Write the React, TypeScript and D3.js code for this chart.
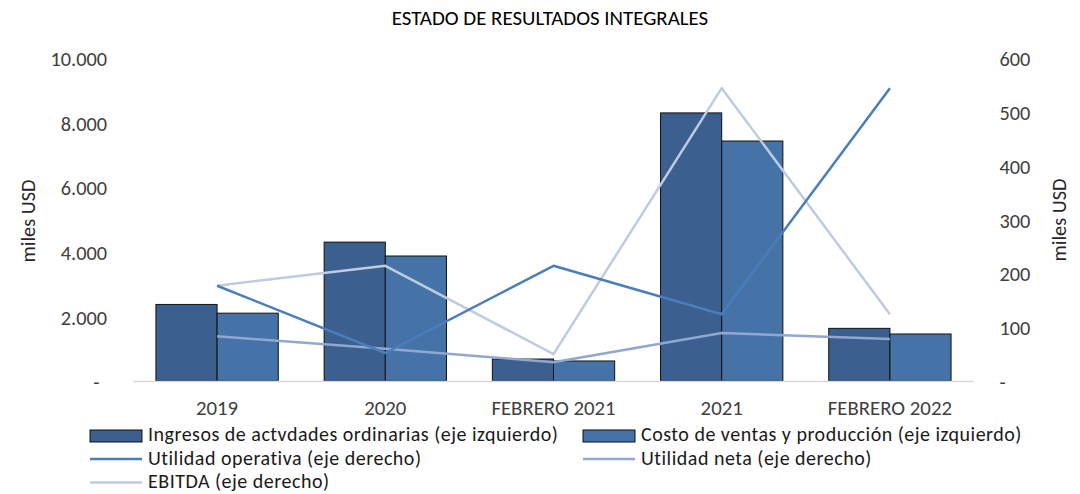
// @ts-nocheck
import React, { useEffect, useRef } from 'react';
import * as d3 from 'd3';

const categories = ['2019', '2020', 'FEBRERO 2021', '2021', 'FEBRERO 2022'];
const ingresos = [2370, 4300, 680, 8300, 1630];
const costo = [2100, 3870, 620, 7430, 1455];
const utilidadOperativa = [177, 52, 214, 124, 544];
const utilidadNeta = [83, 60, 35, 89, 78];
const ebitda = [177, 214, 50, 544, 124];
const leftTicks = [0, 2000, 4000, 6000, 8000, 10000];
const rightTicks = [0, 100, 200, 300, 400, 500, 600];

const FONT = "Carlito, Calibri, Lato, sans-serif";
const FS = 20.3;

const App = () => {
  const svgRef = useRef(null);

  useEffect(() => {
    const width = 1080;
    const height = 494;
    const left = 133;
    const right = 974;
    const top = 58;
    const bottom = 381;

    const svg = d3.select(svgRef.current)
      .attr('width', width)
      .attr('height', height)
      .attr('viewBox', [0, 0, width, height])
      .style('display', 'block')
      .style('font-family', FONT);

    svg.selectAll('*').remove();

    const fmt = d3.formatLocale({ thousands: '.', grouping: [3], decimal: ',', currency: ['', ''] }).format(',d');

    const x = d3.scaleBand().domain(categories).range([left, right]);
    const xSub = d3.scaleBand().domain(['ing', 'cost']).range([0, x.bandwidth()]).paddingOuter(0.375);
    const yL = d3.scaleLinear().domain([0, 10000]).range([bottom, top]);
    const yR = d3.scaleLinear().domain([0, 600]).range([bottom, top]);

    // title
    svg.append('text')
      .attr('x', 550).attr('y', 17.5)
      .attr('dy', '0.35em')
      .attr('text-anchor', 'middle')
      .attr('font-size', 20.9)
      .attr('fill', '#000')
      .text('ESTADO DE RESULTADOS INTEGRALES');

    // left axis
    svg.append('g').selectAll('text').data(leftTicks).join('text')
      .attr('x', d => d === 0 ? 99.5 : 107)
      .attr('y', d => yL(d) + 1)
      .attr('dy', '0.35em')
      .attr('text-anchor', 'end')
      .attr('font-size', FS)
      .attr('fill', '#404040')
      .text(d => d === 0 ? '-' : fmt(d));

    // right axis
    svg.append('g').selectAll('text').data(rightTicks).join('text')
      .attr('x', 999.5)
      .attr('y', d => yR(d) + 1)
      .attr('dy', '0.35em')
      .attr('text-anchor', 'start')
      .attr('font-size', FS)
      .attr('fill', '#404040')
      .text(d => d === 0 ? '-' : fmt(d));

    svg.append('text')
      .attr('transform', 'translate(28,221) rotate(-90)')
      .attr('dy', '0.35em')
      .attr('text-anchor', 'middle')
      .attr('font-size', FS)
      .attr('fill', '#262626')
      .text('miles USD');

    svg.append('text')
      .attr('transform', 'translate(1059,220) rotate(-90)')
      .attr('dy', '0.35em')
      .attr('text-anchor', 'middle')
      .attr('font-size', FS)
      .attr('fill', '#262626')
      .text('miles USD');

    // bars
    const barSeries = [
      { key: 'ing', values: ingresos, color: '#3B5F8E' },
      { key: 'cost', values: costo, color: '#4573A8' },
    ];
    barSeries.forEach(s => {
      svg.append('g').selectAll('rect').data(categories).join('rect')
        .attr('x', (d) => x(d) + xSub(s.key))
        .attr('y', (d, i) => yL(s.values[i]))
        .attr('width', xSub.bandwidth())
        .attr('height', (d, i) => yL(0) - yL(s.values[i]))
        .attr('fill', s.color)
        .attr('stroke', '#111')
        .attr('stroke-width', 1);
    });

    // baseline
    svg.append('line')
      .attr('x1', left).attr('x2', right)
      .attr('y1', bottom + 0.5).attr('y2', bottom + 0.5)
      .attr('stroke', '#D9D9D9')
      .attr('stroke-width', 1.5);

    // lines
    const lineSeries = [
      { values: ebitda, color: '#BFCBE1' },
      { values: utilidadNeta, color: '#90A7D1' },
      { values: utilidadOperativa, color: '#4A7EBB' },
    ];
    const line = d3.line().x(d => d[0]).y(d => d[1]);
    lineSeries.forEach(s => {
      svg.append('path')
        .attr('d', line(categories.map((c, i) => [x(c) + x.bandwidth() / 2, yR(s.values[i])])))
        .attr('fill', 'none')
        .attr('stroke', s.color)
        .attr('stroke-width', 2.5)
        .attr('stroke-linejoin', 'round');
    });

    // category labels
    svg.append('g').selectAll('text').data(categories).join('text')
      .attr('x', d => x(d) + x.bandwidth() / 2)
      .attr('y', 407.5)
      .attr('dy', '0.35em')
      .attr('text-anchor', 'middle')
      .attr('font-size', 20.8)
      .attr('fill', '#404040')
      .text(d => d);

    // legend
    const legend = [
      { label: 'Ingresos de actvdades ordinarias (eje izquierdo)', type: 'rect', color: '#3B5F8E', x: 90, y: 434 },
      { label: 'Costo de ventas y producción (eje izquierdo)', type: 'rect', color: '#4573A8', x: 583, y: 434 },
      { label: 'Utilidad operativa (eje derecho)', type: 'line', color: '#4A7EBB', x: 90, y: 457.5 },
      { label: 'Utilidad neta (eje derecho)', type: 'line', color: '#90A7D1', x: 583, y: 457.5 },
      { label: 'EBITDA (eje derecho)', type: 'line', color: '#BFCBE1', x: 90, y: 481 },
    ];
    const lg = svg.append('g');
    legend.forEach(l => {
      if (l.type === 'rect') {
        lg.append('rect')
          .attr('x', l.x).attr('y', l.y - 4)
          .attr('width', 52).attr('height', 12)
          .attr('fill', l.color)
          .attr('stroke', '#111').attr('stroke-width', 1);
      } else {
        lg.append('line')
          .attr('x1', l.x).attr('x2', l.x + 52)
          .attr('y1', l.y + 1.5).attr('y2', l.y + 1.5)
          .attr('stroke', l.color).attr('stroke-width', 2.5);
      }
      lg.append('text')
        .attr('x', l.x + 58).attr('y', l.y)
        .attr('dy', '0.35em')
        .attr('font-size', 20)
        .attr('letter-spacing', 0.5)
        .attr('fill', '#1a1a1a')
        .text(l.label);
    });
  }, []);

  return <svg ref={svgRef} style={{ position: 'absolute', left: 0, top: 0 }}></svg>;
};

export default App;
